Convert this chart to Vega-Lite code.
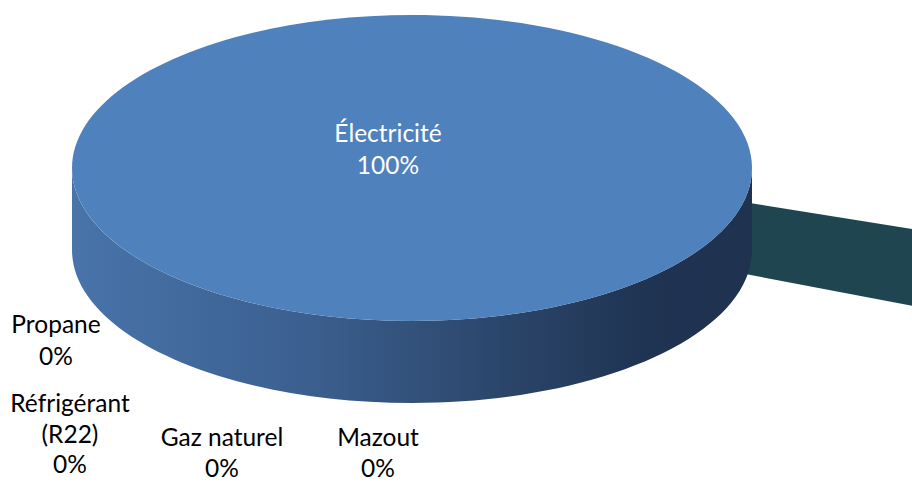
{
  "$schema": "https://vega.github.io/schema/vega-lite/v6.json",
  "width": 912,
  "height": 483,
  "autosize": {"type": "none"},
  "padding": 0,
  "background": "white",
  "config": {"view": {"stroke": null}},
  "data": {
    "values": [
      {"source": "Électricité", "share": 1.0},
      {"source": "Gaz naturel", "share": 0.0},
      {"source": "Mazout", "share": 0.0},
      {"source": "Propane", "share": 0.0},
      {"source": "Réfrigérant (R22)", "share": 0.0}
    ]
  },
  "transform": [
    {"calculate": "replace(datum.source, ' (', '\\n(') + '\\n' + format(datum.share, '.0%')", "as": "label"}
  ],
  "layer": [
    {
      "transform": [{"filter": "datum.source == 'Réfrigérant (R22)'"}],
      "mark": {"type": "point", "filled": true, "opacity": 1, "strokeWidth": 0, "color": "#1F4650",
        "shape": "M 0.975 0.1 L 1.48 0.181 L 1.48 0.407 L 0.965 0.309 Z"},
      "encoding": {
        "x": {"datum": 0, "type": "quantitative", "scale": {"domain": [-1.2118, 1.4706], "nice": false, "zero": false}, "axis": null},
        "y": {"datum": 0, "type": "quantitative", "scale": {"domain": [-0.9265, 0.4941], "nice": false, "zero": false}, "axis": null},
        "size": {"value": 462400}
      }
    },
    {
      "transform": [{"filter": "datum.source == 'Électricité'"}],
      "mark": {"type": "point", "filled": true, "opacity": 1, "strokeWidth": 0,
        "color": {"gradient": "linear", "x1": 0, "y1": 0, "x2": 1, "y2": 0,
          "stops": [
            {"offset": 0, "color": "#4874AA"},
            {"offset": 0.35, "color": "#3B5F8F"},
            {"offset": 0.65, "color": "#2A4468"},
            {"offset": 0.85, "color": "#1F3352"},
            {"offset": 1, "color": "#1F3250"}
          ]},
        "shape": "M -1 0 L -1 0.241 A 1 0.45 0 0 0 1 0.241 L 1 0 A 1 0.45 0 0 1 -1 0 Z"},
      "encoding": {
        "x": {"datum": 0, "type": "quantitative", "scale": {"domain": [-1.2118, 1.4706], "nice": false, "zero": false}, "axis": null},
        "y": {"datum": 0, "type": "quantitative", "scale": {"domain": [-0.9265, 0.4941], "nice": false, "zero": false}, "axis": null},
        "size": {"value": 462400}
      }
    },
    {
      "transform": [{"filter": "datum.source == 'Électricité'"}],
      "mark": {"type": "point", "filled": true, "opacity": 1, "strokeWidth": 0, "color": "#4F81BD",
        "shape": "M -1 0 A 1 0.45 0 1 1 1 0 A 1 0.45 0 1 1 -1 0 Z"},
      "encoding": {
        "x": {"datum": 0, "type": "quantitative", "scale": {"domain": [-1.2118, 1.4706], "nice": false, "zero": false}, "axis": null},
        "y": {"datum": 0, "type": "quantitative", "scale": {"domain": [-0.9265, 0.4941], "nice": false, "zero": false}, "axis": null},
        "size": {"value": 462400}
      }
    },
    {
      "transform": [{"filter": "datum.source == 'Électricité'"}],
      "mark": {"type": "text", "font": "Lato", "fontSize": 24.5, "lineHeight": 32, "lineBreak": "\n", "align": "center", "baseline": "alphabetic", "color": "white"},
      "encoding": {
        "x": {"datum": -0.0706, "type": "quantitative", "scale": {"domain": [-1.2118, 1.4706], "nice": false, "zero": false}, "axis": null},
        "y": {"datum": 0.0765, "type": "quantitative", "scale": {"domain": [-0.9265, 0.4941], "nice": false, "zero": false}, "axis": null},
        "text": {"field": "label"}
      }
    },
    {
      "transform": [{"filter": "datum.source == 'Propane'"}],
      "mark": {"type": "text", "font": "Lato", "fontSize": 24.5, "lineHeight": 32, "lineBreak": "\n", "align": "center", "baseline": "alphabetic", "color": "black"},
      "encoding": {
        "x": {"datum": -1.047, "type": "quantitative", "scale": {"domain": [-1.2118, 1.4706], "nice": false, "zero": false}, "axis": null},
        "y": {"datum": -0.485, "type": "quantitative", "scale": {"domain": [-0.9265, 0.4941], "nice": false, "zero": false}, "axis": null},
        "text": {"field": "label"}
      }
    },
    {
      "transform": [{"filter": "datum.source == 'Réfrigérant (R22)'"}],
      "mark": {"type": "text", "font": "Lato", "fontSize": 24.5, "lineHeight": 30.5, "lineBreak": "\n", "align": "center", "baseline": "alphabetic", "color": "black"},
      "encoding": {
        "x": {"datum": -1.006, "type": "quantitative", "scale": {"domain": [-1.2118, 1.4706], "nice": false, "zero": false}, "axis": null},
        "y": {"datum": -0.718, "type": "quantitative", "scale": {"domain": [-0.9265, 0.4941], "nice": false, "zero": false}, "axis": null},
        "text": {"field": "label"}
      }
    },
    {
      "transform": [{"filter": "datum.source == 'Gaz naturel'"}],
      "mark": {"type": "text", "font": "Lato", "fontSize": 24.5, "lineHeight": 31, "lineBreak": "\n", "align": "center", "baseline": "alphabetic", "color": "black"},
      "encoding": {
        "x": {"datum": -0.559, "type": "quantitative", "scale": {"domain": [-1.2118, 1.4706], "nice": false, "zero": false}, "axis": null},
        "y": {"datum": -0.818, "type": "quantitative", "scale": {"domain": [-0.9265, 0.4941], "nice": false, "zero": false}, "axis": null},
        "text": {"field": "label"}
      }
    },
    {
      "transform": [{"filter": "datum.source == 'Mazout'"}],
      "mark": {"type": "text", "font": "Lato", "fontSize": 24.5, "lineHeight": 31, "lineBreak": "\n", "align": "center", "baseline": "alphabetic", "color": "black"},
      "encoding": {
        "x": {"datum": -0.1, "type": "quantitative", "scale": {"domain": [-1.2118, 1.4706], "nice": false, "zero": false}, "axis": null},
        "y": {"datum": -0.818, "type": "quantitative", "scale": {"domain": [-0.9265, 0.4941], "nice": false, "zero": false}, "axis": null},
        "text": {"field": "label"}
      }
    }
  ]
}
